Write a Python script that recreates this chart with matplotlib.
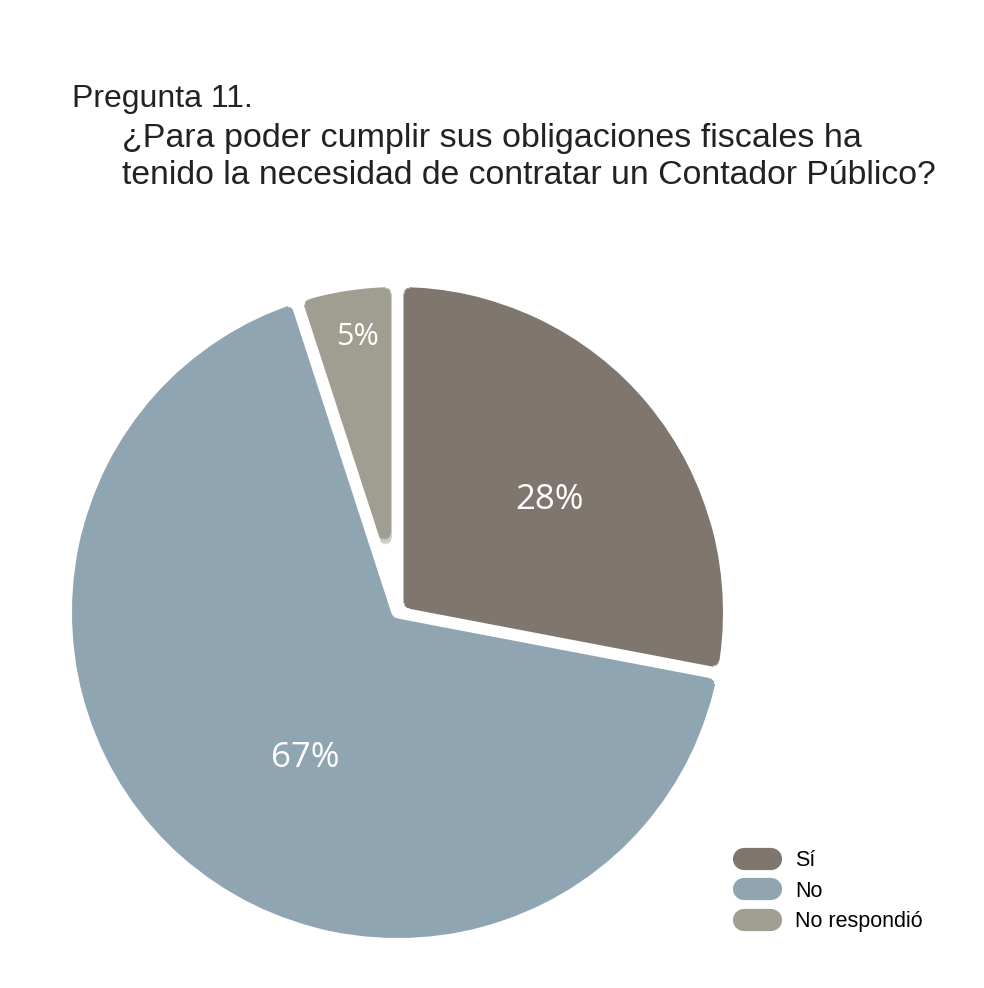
import numpy as np
import matplotlib.pyplot as plt
from matplotlib.lines import Line2D

categorias = ["Sí", "No", "No respondió"]
porcentajes = [28, 67, 5]
colores = ["#7f776d", "#8fa5b2", "#a09d91"]
etiqueta_pos = [(0.459, 0.340), (-0.279, -0.440), (-0.122, 0.830)]

W, H = 984, 988
HUECO = 12      # ancho del espacio blanco entre rebanadas (px)
RADIO_ESQ = 6   # radio de las esquinas redondeadas (px)


def morfologia(a, r, fn):
    h, w = a.shape
    p = np.pad(a, r)
    out = a.copy()
    for dy in range(-r, r + 1):
        for dx in range(-r, r + 1):
            if dx * dx + dy * dy <= r * r:
                out = fn(out, p[r + dy:r + dy + h, r + dx:r + dx + w])
    return out


def esquinas_redondas(img, dpi):
    # erosiona (hueco + radio) y luego dilata (radio): separa y redondea
    a = img[..., 3].astype(np.float32)
    iy, ix = np.unravel_index(a.argmax(), a.shape)
    er = morfologia(a, HUECO // 2 + RADIO_ESQ, np.minimum)
    ab = morfologia(er, RADIO_ESQ, np.maximum)
    out = np.empty_like(img)
    out[..., :3] = img[iy, ix, :3]
    out[..., 3] = ab
    return out, 0, 0


fig = plt.figure(figsize=(W / 100, H / 100), dpi=100)
fig.patch.set_facecolor("white")

# titulo de la pregunta
titulo = dict(family="Liberation Sans", color="#222222", va="baseline", ha="left")
fig.text(72 / W, 1 - 107 / H, "Pregunta 11.", fontsize=23, **titulo)
fig.text(122 / W, 1 - 147 / H, "¿Para poder cumplir sus obligaciones fiscales ha",
         fontsize=24.5, **titulo)
fig.text(122 / W, 1 - 184 / H, "tenido la necesidad de contratar un Contador Público?",
         fontsize=24.3, **titulo)

# pastel: radio 1 = 331.5 px, centro en (397.5, 612.5)
R = 331.5
ax = fig.add_axes([(397.5 - R) / W, (H - 612.5 - R) / H, 2 * R / W, 2 * R / H])
wedges, _ = ax.pie(porcentajes, colors=colores, startangle=90, counterclock=False,
                   radius=1.0, wedgeprops=dict(linewidth=0))
for w in wedges:
    w.set_agg_filter(esquinas_redondas)

# etiquetas de porcentaje
tam = [25, 25, 22]
for (x, y), p, s in zip(etiqueta_pos, porcentajes, tam):
    ax.text(x, y, f"{p}%", color="white", fontsize=s, family="Open Sans",
            ha="center", va="center")

ax.set_xlim(-1, 1)
ax.set_ylim(-1, 1)
ax.set_aspect("equal")
ax.axis("off")

handles = [Line2D([0], [0], color=c, lw=16, solid_capstyle="round") for c in colores]
fig.legend(handles, categorias, loc="upper left", bbox_to_anchor=(725 / W, 1 - 831 / H),
           frameon=False, handlelength=1.25, handletextpad=1.1, labelspacing=0.44,
           prop=dict(family="Liberation Sans", size=15.5))

fig.savefig("out.png", dpi=100, facecolor="white")
